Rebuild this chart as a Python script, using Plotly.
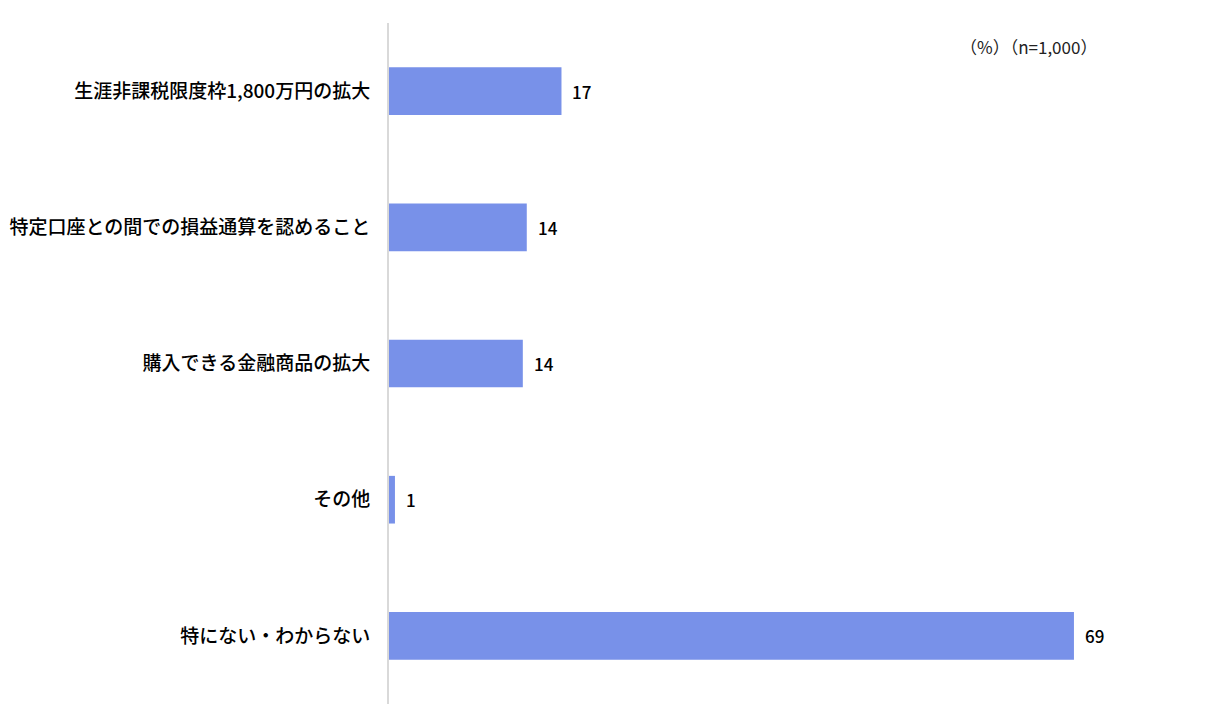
import plotly.graph_objects as go

categories = [
    "生涯非課税限度枠1,800万円の拡大",
    "特定口座との間での損益通算を認めること",
    "購入できる金融商品の拡大",
    "その他",
    "特にない・わからない",
]
values = [17.4, 13.9, 13.5, 0.6, 69.1]
value_labels = ["17", "14", "14", "1", "69"]

bar_color = "#7891E9"
font_family = "Noto Sans CJK JP"

# page offset (body margin) of 8px
OFF = 8
PL, PR, PT, PB = 389, 1182, 23, 704

fig = go.Figure()
fig.add_trace(go.Bar(
    x=values,
    y=categories,
    orientation="h",
    marker=dict(color=bar_color, line=dict(width=0)),
    width=0.35,
    hoverinfo="skip",
))

for v, c, t in zip(values, categories, value_labels):
    fig.add_annotation(
        x=v, y=c, text=t, showarrow=False,
        xanchor="left", xshift=9,
        font=dict(family=font_family, size=17, color="#000000", weight=500),
    )

fig.add_annotation(
    xref="paper", yref="paper",
    x=(1099 - PL) / (PR - PL), y=1 - (46 - PT) / (PB - PT),
    text="（%）（n=1,000）", showarrow=False,
    xanchor="right", yanchor="middle",
    font=dict(family=font_family, size=17, color="#222222"),
)

fig.update_layout(
    width=1205, height=727,
    margin=dict(l=PL - OFF, r=1205 - PR + OFF, t=PT - OFF, b=727 - PB + OFF,
                autoexpand=False),
    plot_bgcolor="white",
    paper_bgcolor="white",
    showlegend=False,
    font=dict(family=font_family, size=17, color="#000000"),
)
fig.update_xaxes(
    range=[0, 80], visible=False, showgrid=False, zeroline=False,
    automargin=False,
)
fig.update_yaxes(
    autorange="reversed",
    showgrid=False, zeroline=False, automargin=False,
    showline=True, linecolor="#d9d9d9", linewidth=2,
    ticks="", ticklabelstandoff=13,
    tickfont=dict(family=font_family, size=19, color="#000000", weight=500),
)

fig.write_html("out.html")
